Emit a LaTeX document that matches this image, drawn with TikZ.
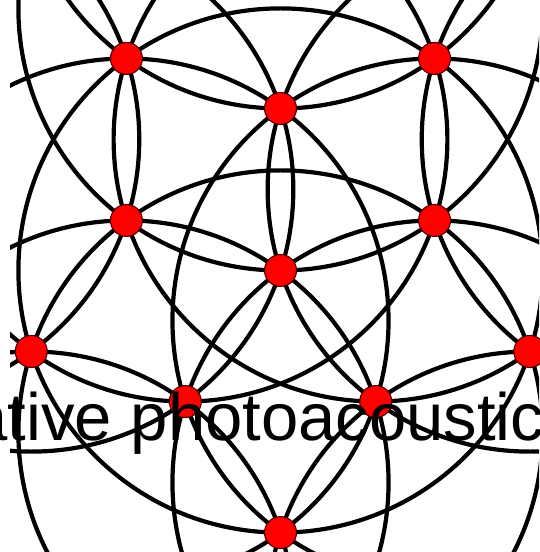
\documentclass[tikz,border=0pt]{standalone}
\usepackage{fontspec}
\setmainfont{Liberation Sans}
\usepackage{tikz}
\usetikzlibrary{calc}
\definecolor{dotred}{HTML}{FF0000}
\definecolor{dotrim}{HTML}{4A0000}

\begin{document}
\begin{tikzpicture}[x=1pt,y=1pt,line cap=round,line join=round,
  ring/.style={draw=black,line width=4.2pt},
  spot/.style={circle,fill=dotred,draw=dotrim,line width=1.1pt,minimum size=32pt,inner sep=0pt},
  title/.style={font=\fontsize{67}{80}\selectfont,text=black,inner sep=0pt,anchor=base west}]
\def\edge{162}
\def\rad{262.1}
\def\far{424.1}
\path[use as bounding box] (0,0) rectangle (539,552);
\fill[white] (0,0) rectangle (539,552);
\coordinate (hub) at (280.5,281.5);
% circles, all of the same radius
\begin{scope}
\clip (10,0) rectangle (539,552);
\draw[ring] (hub) circle[radius=\rad];
\draw[ring] ($(hub)+(18:\rad)$) circle[radius=\rad];
\draw[ring] ($(hub)+(90:\rad)$) circle[radius=\rad];
\draw[ring] ($(hub)+(162:\rad)$) circle[radius=\rad];
\draw[ring] ($(hub)+(234:\rad)$) circle[radius=\rad];
\draw[ring] ($(hub)+(306:\rad)$) circle[radius=\rad];
\draw[ring] ($(hub)+(18:\far)$) circle[radius=\rad];
\draw[ring] ($(hub)+(90:\far)$) circle[radius=\rad];
\draw[ring] ($(hub)+(162:\far)$) circle[radius=\rad];
\draw[ring] ($(hub)+(234:\far)$) circle[radius=\rad];
\draw[ring] ($(hub)+(306:\far)$) circle[radius=\rad];
\draw[ring] ($(hub)+(54:\edge)$) circle[radius=\rad];
\draw[ring] ($(hub)+(126:\edge)$) circle[radius=\rad];
\draw[ring] ($(hub)+(198:\edge)$) circle[radius=\rad];
\draw[ring] ($(hub)+(270:\edge)$) circle[radius=\rad];
\draw[ring] ($(hub)+(342:\edge)$) circle[radius=\rad];
\end{scope}
% points where five circles meet
\node[spot] (mid) at (hub) {};
\node[spot] (itop) at ($(hub)+(90:\edge)$) {};
\node[spot] (ileft) at ($(hub)+(162:\edge)$) {};
\node[spot] (iright) at ($(hub)+(18:\edge)$) {};
\node[spot] (ibl) at ($(hub)+(234:\edge)$) {};
\node[spot] (ibr) at ($(hub)+(306:\edge)$) {};
\node[spot] (otl) at ($(hub)+(126:\rad)$) {};
\node[spot] (otr) at ($(hub)+(54:\rad)$) {};
\node[spot] (oleft) at ($(hub)+(198:\rad)$) {};
\node[spot] (oright) at ($(hub)+(342:\rad)$) {};
\node[spot] (obot) at ($(hub)+(270:\rad)$) {};
\node[title] (caption) at (-29.5,111) {ative photoacoustic};
\end{tikzpicture}
\end{document}
